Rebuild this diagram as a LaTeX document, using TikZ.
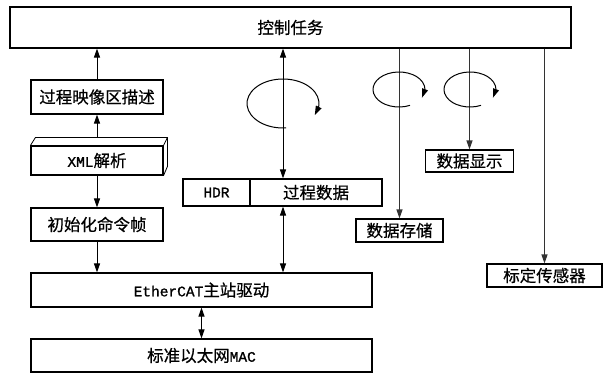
\documentclass[tikz,border=0pt]{standalone}
\usepackage{fontspec}
\newfontfamily\cjk[FakeBold=0.6]{Noto Sans CJK SC}
\newfontfamily\latfont[FakeBold=1.2]{Liberation Mono}
\newcommand\latx[1]{{\latfont\fontsize{14.5}{18}\selectfont #1}}
\usetikzlibrary{arrows.meta,calc,bending}
\begin{document}
\begin{tikzpicture}[x=1pt,y=1pt,
  box/.style={draw=black, line width=1.1pt, inner sep=0pt, font=\cjk\fontsize{16.5}{18}\selectfont, text=black},
  arr/.style={line width=1pt, -{Triangle[length=9pt,width=6pt]}},
  darr/.style={line width=1pt, {Triangle[length=9pt,width=6pt]}-{Triangle[length=9pt,width=6pt]}},
  gline/.style={line width=1.2pt, draw=black!80, -{Triangle[length=9pt,width=6pt]}},
  loopy/.style={line width=1pt, -{Triangle[length=9pt,width=6pt,flex]}},
  face/.style={line width=0.8pt}
]
\useasboundingbox (0,0) rectangle (611,-374);
% boxes
\node[box, minimum width=561pt, minimum height=41pt] (top) at (290.5,-27.5) {控制任务};
\node[box, minimum width=132pt, minimum height=34pt] (map) at (97,-97) {过程映像区描述};
\node[box, minimum width=132pt, minimum height=29pt] (xml) at (97,-160.5) {\latx{XML}解析};
\node[box, minimum width=132pt, minimum height=33pt] (init) at (97,-224.5) {初始化命令帧};
\node[box, minimum width=341pt, minimum height=34pt] (ecat) at (201.5,-290) {\latx{EtherCAT}主站驱动};
\node[box, minimum width=341pt, minimum height=33pt] (mac) at (201.5,-355.5) {标准以太网\latx{MAC}};
\node[box, minimum width=67pt, minimum height=27pt] (hdr) at (216.5,-192.5) {\latx{HDR}};
\node[box, minimum width=132pt, minimum height=27pt] (pd) at (316,-192.5) {过程数据};
\node[box, minimum width=87pt, minimum height=23pt] (store) at (399.5,-230.5) {数据存储};
\node[box, minimum width=88pt, minimum height=22pt] (disp) at (469.5,-161) {数据显示};
\node[box, minimum width=115pt, minimum height=23pt] (calib) at (544.5,-275.5) {标定传感器};
% 3D faces of the XML box
\draw[face] (xml.north west) -- ++(5,8) coordinate (xmlbl) -- ++(132,0) coordinate (xmlbr) -- (xml.north east);
\draw[face] (xmlbr) -- ++(0,-29) -- (xml.south east);
\coordinate (xmlback) at ($(xml.north)+(0,8)$);
\coordinate (pdx) at (283,0);
% left column connectors
\draw[arr] (map.north) -- (top.south -| map.north);
\draw[arr] (xmlback) -- (map.south);
\draw[arr] (xml.south) -- (init.north);
\draw[arr] (init.south) -- (ecat.north -| init.south);
\draw[darr] (ecat.south -| mac.north) -- (mac.north);
% process data connectors
\draw[darr] (top.south -| pdx) -- (pd.north -| pdx);
\draw[darr] (pd.south -| pdx) -- (ecat.north -| pdx);
% right side lines
\draw[gline] (top.south -| store.north) -- (store.north);
\draw[gline] (top.south -| disp.north) -- (disp.north);
\draw[gline] (top.south -| calib.north) -- (calib.north);
% rotation loops
\draw[loopy] (283,-103.5) ++(275:36 and 24.5) arc[start angle=275, end angle=-28, x radius=36, y radius=24.5];
\draw[loopy] (399,-89.5) ++(295:26 and 17.5) arc[start angle=295, end angle=-28, x radius=26, y radius=17.5];
\draw[loopy] (470,-89.5) ++(295:26 and 17.5) arc[start angle=295, end angle=-28, x radius=26, y radius=17.5];
\end{tikzpicture}
\end{document}
